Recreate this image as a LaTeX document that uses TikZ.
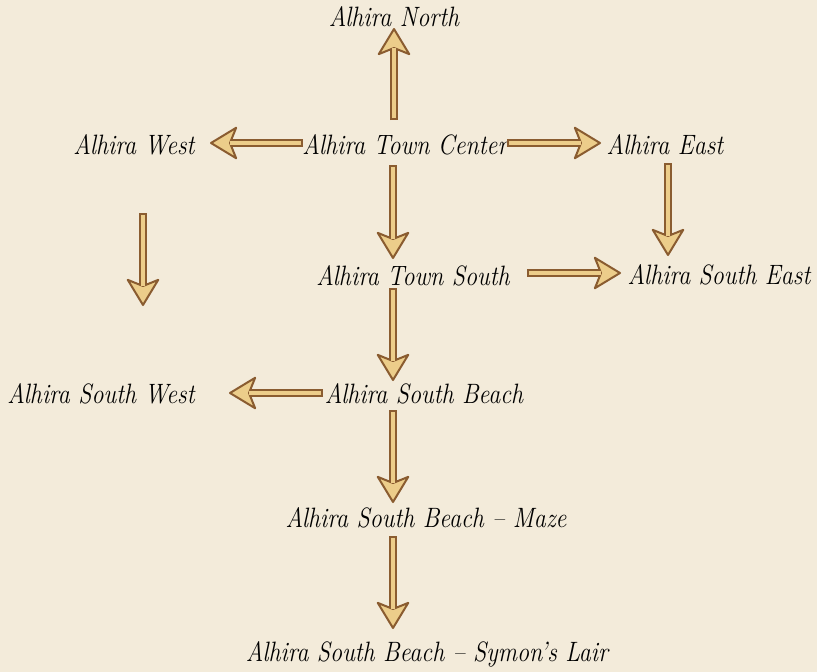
\documentclass[tikz,border=0pt]{standalone}
\usetikzlibrary{arrows.meta}
\definecolor{bg}{RGB}{243,235,218}
\definecolor{agold}{RGB}{236,205,138}
\definecolor{abrown}{RGB}{138,92,48}
\newcommand{\lb}[1]{\scalebox{0.86}[1]{#1}}
\newcommand{\bigarrow}[2]{\draw[arrout] (#1) -- (#2); \draw[arrin] (#1) -- (#2);}
\begin{document}
\begin{tikzpicture}[x=1pt,y=-1pt,
  lbl/.style={font=\fontsize{28}{32}\selectfont\itshape, inner sep=0pt, anchor=base},
  arrout/.style={line width=8pt, draw=abrown,
    -{Stealth[length=29pt,width=35pt,inset=7pt,round,line width=2pt,fill=agold,color=abrown]}},
  arrin/.style={line width=4.5pt, draw=agold, shorten <=1.75pt, shorten >=20pt}]
\fill[bg] (0,0) rectangle (817,672);
\useasboundingbox (0,0) rectangle (817,672);

% labels
\node[lbl] (north) at (394,26)  {\lb{Alhira North}};
\node[lbl] (west)  at (134,154) {\lb{Alhira West}};
\node[lbl] (tc)    at (405,154) {\lb{Alhira Town Center}};
\node[lbl] (east)  at (665,154) {\lb{Alhira East}};
\node[lbl] (ts)    at (413,285) {\lb{Alhira Town South}};
\node[lbl] (se)    at (719,284) {\lb{Alhira South East}};
\node[lbl] (sw)    at (101,403) {\lb{Alhira South West}};
\node[lbl] (sb)    at (424,403) {\lb{Alhira South Beach}};
\node[lbl] (maze)  at (426,527) {\lb{Alhira South Beach -- Maze}};
\node[lbl] (lair)  at (427,661) {\lb{Alhira South Beach -- Symon's Lair}};

% arrow end points
\coordinate (a1s) at (394,120); \coordinate (a1e) at (394,28);
\coordinate (a2s) at (303,143); \coordinate (a2e) at (210,143);
\coordinate (a3s) at (143,213); \coordinate (a3e) at (143,306);
\coordinate (a4s) at (507,143); \coordinate (a4e) at (601,143);
\coordinate (a5s) at (393,165); \coordinate (a5e) at (393,259);
\coordinate (a6s) at (668,163); \coordinate (a6e) at (668,256);
\coordinate (a7s) at (527,273); \coordinate (a7e) at (621,273);
\coordinate (a8s) at (393,288); \coordinate (a8e) at (393,381);
\coordinate (a9s) at (323,393); \coordinate (a9e) at (229,393);
\coordinate (a10s) at (393,410); \coordinate (a10e) at (393,503);
\coordinate (a11s) at (393,536); \coordinate (a11e) at (393,629);

\bigarrow{a1s}{a1e}
\bigarrow{a2s}{a2e}
\bigarrow{a3s}{a3e}
\bigarrow{a4s}{a4e}
\bigarrow{a5s}{a5e}
\bigarrow{a6s}{a6e}
\bigarrow{a7s}{a7e}
\bigarrow{a8s}{a8e}
\bigarrow{a9s}{a9e}
\bigarrow{a10s}{a10e}
\bigarrow{a11s}{a11e}
\end{tikzpicture}
\end{document}
